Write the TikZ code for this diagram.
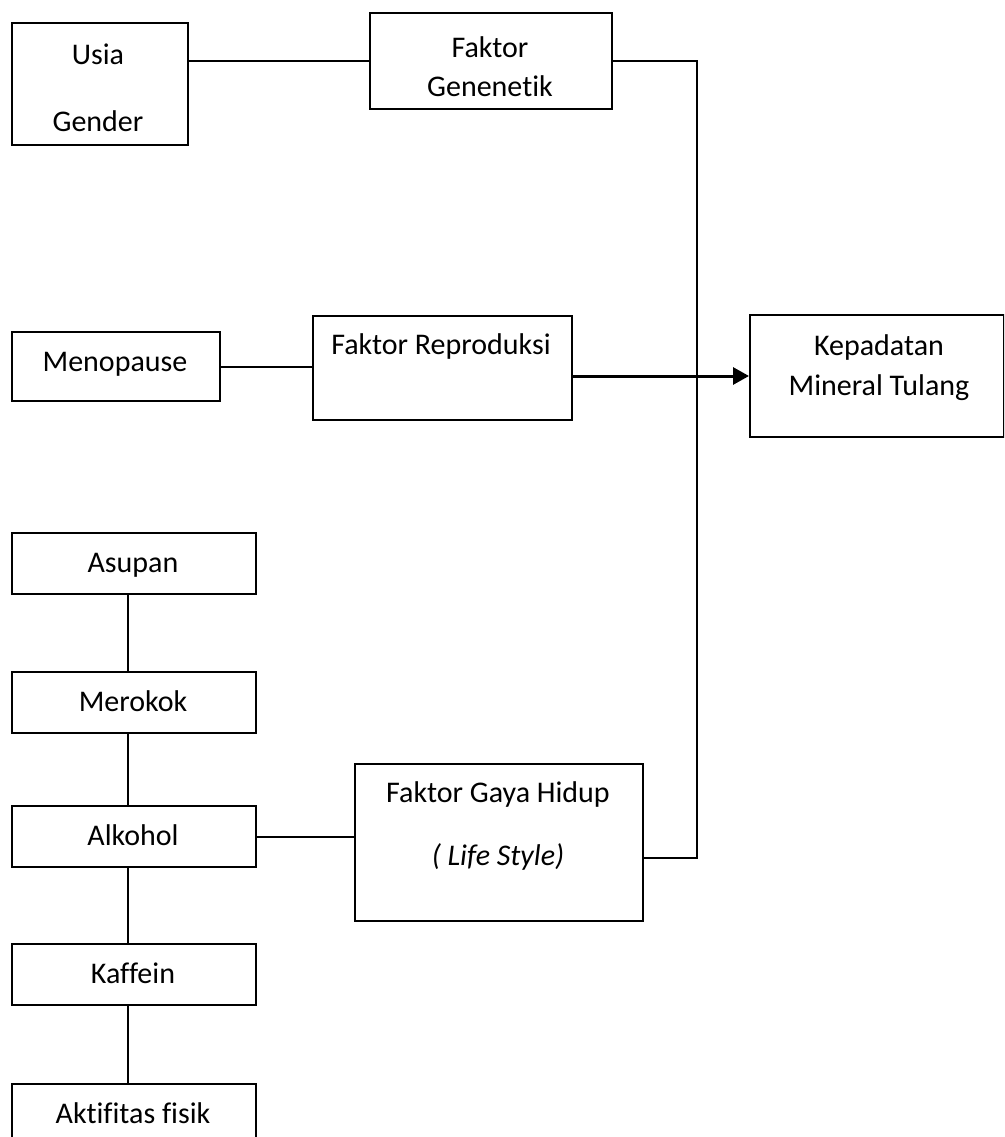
\documentclass[tikz,border=0pt]{standalone}
\usepackage{fontspec}
\setmainfont{Carlito}[Ligatures=NoCommon, RawFeature={-liga;-clig}]
\usetikzlibrary{arrows.meta}
\begin{document}
\begin{tikzpicture}[x=1pt,y=-1pt,
  box/.style={draw, line width=2pt, inner sep=0pt, anchor=north west},
  lbl/.style={inner sep=0pt, text height=0.64em, text depth=0pt, font=\fontsize{30}{36}\selectfont},
  conn/.style={line width=2pt},
  arr/.style={line width=3pt, -{Triangle[length=16pt,width=17pt]}}]
\clip (0,0) rectangle (1004,1137);
\fill[white] (0,0) rectangle (1004,1137);
% boxes
\node[box, minimum width=176pt, minimum height=122pt] (usia) at (11,22) {};
\node[box, minimum width=242pt, minimum height=96pt] (fg) at (369,12) {};
\node[box, minimum width=208pt, minimum height=69pt] (meno) at (11,331) {};
\node[box, minimum width=259pt, minimum height=104pt] (fr) at (312,315) {};
\node[box, minimum width=254pt, minimum height=122pt] (kep) at (749,314) {};
\node[box, minimum width=244pt, minimum height=61pt] (asu) at (11,532) {};
\node[box, minimum width=244pt, minimum height=61pt] (mer) at (11,671) {};
\node[box, minimum width=244pt, minimum height=61pt] (alk) at (11,805) {};
\node[box, minimum width=244pt, minimum height=61pt] (kaf) at (11,943) {};
\node[box, minimum width=244pt, minimum height=80pt] (akt) at (11,1083) {};
\node[box, minimum width=288pt, minimum height=157pt] (fgh) at (354,763) {};
% texts
\node[lbl] (tUsia) at (98,61) {Usia};
\node[lbl] (tGender) at (98,128) {Gender};
\node[lbl] (tFak1) at (490,54) {Faktor};
\node[lbl] (tGen) at (490,93) {Genenetik};
\node[lbl] (tMeno) at (115,368) {Menopause};
\node[lbl] (tFR) at (441,351) {Faktor Reproduksi};
\node[lbl] (tKep1) at (879,352) {Kepadatan};
\node[lbl] (tKep2) at (879,392) {Mineral Tulang};
\node[lbl] (tAsu) at (133,569) {Asupan};
\node[lbl] (tMer) at (133,708) {Merokok};
\node[lbl] (tAlk) at (133,842) {Alkohol};
\node[lbl] (tKaf) at (133,980) {Kaffein};
\node[lbl] (tAkt) at (133,1120) {Aktifitas fisik};
\node[lbl] (tFGH) at (498,799) {Faktor Gaya Hidup};
\node[lbl] (tLS) at (498,862) {\itshape ( Life Style)};
% connector coordinates
\coordinate (trunkBot) at (697,858);
\coordinate (fghPort) at (642,858);
\coordinate (chain) at (128,0);
% connectors
\draw[conn] (usia.east |- fg.west) -- (fg.west);
\draw[conn] (fg.east) -- (fg.east -| trunkBot) -- (trunkBot) -- (fghPort);
\draw[conn] (meno.east) -- (meno.east -| fr.west);
\draw[arr] (kep.west -| fr.east) -- (kep.west);
\draw[conn] (alk.east) -- (alk.east -| fgh.west);
\draw[conn] (asu.south -| chain) -- (mer.north -| chain);
\draw[conn] (mer.south -| chain) -- (alk.north -| chain);
\draw[conn] (alk.south -| chain) -- (kaf.north -| chain);
\draw[conn] (kaf.south -| chain) -- (akt.north -| chain);
\end{tikzpicture}
\end{document}
